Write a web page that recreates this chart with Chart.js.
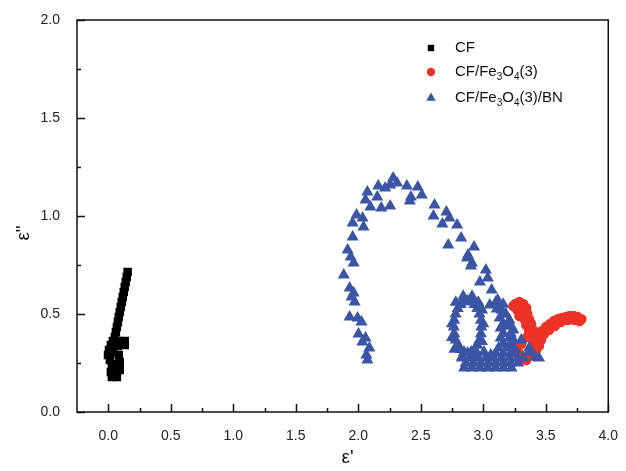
<!DOCTYPE html>
<html>
<head>
<meta charset="utf-8">
<script src="https://cdn.jsdelivr.net/npm/chart.js@4.4.0/dist/chart.umd.min.js"></script>
<style>
  html, body { margin: 0; padding: 0; background: #fff; }
  #chart { display: block; }
</style>
</head>
<body>
<canvas id="chart" width="626" height="471"></canvas>
<script>
// tick labels
const xTicks = [0.0, 0.5, 1.0, 1.5, 2.0, 2.5, 3.0, 3.5, 4.0];
const yTicks = [0.0, 0.5, 1.0, 1.5, 2.0];

// series names
const seriesNames = ['CF', 'CF/Fe3O4(3)', 'CF/Fe3O4(3)/BN'];

// CF (black squares) - eps', eps''
const cfX = [0.155, 0.148, 0.140, 0.132, 0.124, 0.116, 0.108, 0.100, 0.092, 0.084, 0.077, 0.069, 0.061, 0.053,
  0.037, 0.021, 0.084, 0.132, 0.132, 0.077, 0.006, -0.002, 0.013, 0.037, 0.061, 0.069, 0.061, 0.029, 0.021, 0.029,
  0.084, 0.092, 0.092, 0.037, 0.069];
const cfY = [0.714, 0.689, 0.663, 0.638, 0.612, 0.587, 0.561, 0.536, 0.510, 0.485, 0.459, 0.434, 0.408, 0.383,
  0.362, 0.342, 0.362, 0.362, 0.342, 0.337, 0.316, 0.291, 0.265, 0.245, 0.224, 0.204, 0.184, 0.179, 0.204, 0.235,
  0.291, 0.255, 0.214, 0.306, 0.179];

// CF/Fe3O4(3) (red circles)
const feX = [3.439, 3.470, 3.502, 3.534, 3.565, 3.597, 3.628, 3.660, 3.691, 3.723, 3.754, 3.786,
  3.486, 3.526, 3.573, 3.621, 3.676, 3.731, 3.770,
  3.257, 3.289, 3.320, 3.344, 3.273, 3.304, 3.352, 3.367, 3.320, 3.383, 3.344, 3.399, 3.367,
  3.415, 3.383, 3.431, 3.399, 3.423, 3.383, 3.360, 3.320, 3.289, 3.273, 3.304,
  3.241, 3.296, 3.328, 3.289, 3.336, 3.383, 3.352, 3.399, 3.446, 3.407, 3.344, 3.257, 3.225, 3.462];
const feY = [0.388, 0.413, 0.434, 0.449, 0.464, 0.474, 0.480, 0.485, 0.490, 0.490, 0.485, 0.474,
  0.398, 0.418, 0.439, 0.459, 0.469, 0.469, 0.464,
  0.551, 0.561, 0.551, 0.531, 0.520, 0.510, 0.500, 0.474, 0.480, 0.449, 0.444, 0.418, 0.413,
  0.388, 0.378, 0.357, 0.342, 0.316, 0.306, 0.286, 0.276, 0.296, 0.327, 0.347,
  0.541, 0.536, 0.515, 0.490, 0.469, 0.423, 0.383, 0.367, 0.337, 0.286, 0.265, 0.306, 0.337, 0.367];

// CF/Fe3O4(3)/BN (blue triangles): big arc, small loop, lobe and bottom
const bnX = [2.073, 2.065, 2.089, 2.033, 2.058, 2.002, 2.026, 1.994, 1.931, 1.971, 1.947, 1.963, 1.931, 1.884,
  1.963, 1.939, 1.915, 1.955, 2.042, 1.955, 2.034, 1.986, 2.097, 2.058, 2.184, 2.255, 2.152, 2.073, 2.160,
  2.215, 2.255, 2.279, 2.310, 2.389, 2.421, 2.413, 2.476, 2.508, 2.610, 2.705, 2.602, 2.729, 2.673, 2.791,
  2.823, 2.720, 2.870, 2.902, 2.926, 2.878, 2.910, 3.021, 2.973, 3.036, 3.067, 3.115, 3.146, 3.209, 3.241,
  3.304, 3.367, 3.415,
  2.985, 2.981, 2.970, 2.953, 2.930, 2.903, 2.875, 2.846, 2.819, 2.796, 2.779, 2.768, 2.764, 2.768, 2.779,
  2.796, 2.819, 2.846, 2.875, 2.903, 2.930, 2.953, 2.970, 2.981,
  2.780, 2.840, 2.910, 2.960, 2.750, 2.750, 2.770, 2.830, 2.900, 2.950, 2.990, 3.000, 2.990,
  3.052, 3.107, 3.131, 3.139, 3.139, 3.123, 3.060, 3.005, 3.194, 3.210, 3.194, 3.257, 3.241, 3.180,
  3.160, 3.160, 3.160, 3.160, 3.160, 3.160, 3.100, 3.100, 3.220, 3.220, 3.220, 3.220,
  2.831, 2.894, 2.957, 3.021, 3.084, 3.147, 3.210, 3.273,
  2.860, 2.920, 2.980, 3.040, 3.100, 3.160, 3.220, 3.280,
  2.847, 2.910, 2.973, 3.036, 3.099, 3.162, 3.226,
  3.320, 3.367, 3.446];
const bnY = [0.265, 0.291, 0.327, 0.357, 0.378, 0.398, 0.459, 0.480, 0.485, 0.561, 0.587, 0.607, 0.633, 0.699,
  0.760, 0.791, 0.827, 0.893, 0.944, 0.964, 0.990, 1.005, 1.046, 1.082, 1.041, 1.051, 1.097, 1.122, 1.153,
  1.143, 1.158, 1.194, 1.168, 1.153, 1.097, 1.077, 1.148, 1.107, 1.056, 1.020, 1.000, 0.990, 0.959, 0.954,
  0.888, 0.852, 0.786, 0.745, 0.842, 0.801, 0.760, 0.724, 0.663, 0.684, 0.622, 0.571, 0.520, 0.469, 0.418,
  0.367, 0.327, 0.281,
  0.434, 0.468, 0.500, 0.528, 0.548, 0.562, 0.566, 0.562, 0.548, 0.528, 0.500, 0.468, 0.434, 0.399, 0.367,
  0.340, 0.319, 0.306, 0.301, 0.306, 0.319, 0.340, 0.367, 0.399,
  0.560, 0.590, 0.590, 0.560, 0.450, 0.380, 0.320, 0.280, 0.280, 0.300, 0.360, 0.450, 0.520,
  0.546, 0.526, 0.480, 0.429, 0.378, 0.327, 0.291, 0.306, 0.439, 0.378, 0.327, 0.316, 0.367, 0.500,
  0.300, 0.350, 0.400, 0.450, 0.500, 0.550, 0.300, 0.560, 0.300, 0.340, 0.400, 0.440,
  0.276, 0.276, 0.276, 0.276, 0.276, 0.276, 0.276, 0.276,
  0.250, 0.250, 0.250, 0.250, 0.250, 0.250, 0.250, 0.250,
  0.224, 0.224, 0.224, 0.224, 0.224, 0.224, 0.224,
  0.276, 0.306, 0.276];

const FONT = '"Liberation Sans", Arial, Helvetica, sans-serif';
const BLACK = '#000000';
const RED = '#ec3327';
const BLUE = '#3b55a5';

function pairs(xs, ys) {
  return xs.map((x, i) => ({ x: x, y: ys[i] }));
}

// frame, inward ticks, axis titles and legend
const decor = {
  id: 'decor',
  beforeDatasetsDraw(chart) {
    const ctx = chart.ctx;
    const a = chart.chartArea;
    const xs = chart.scales.x, ys = chart.scales.y;
    ctx.save();
    ctx.strokeStyle = '#111';
    ctx.lineWidth = 1.5;
    ctx.beginPath();
    xTicks.forEach((v, i) => {
      const px = Math.round(xs.getPixelForValue(v)) + 0.5;
      ctx.moveTo(px, a.bottom); ctx.lineTo(px, a.bottom - 8);
      if (i < xTicks.length - 1) {
        const m = Math.round(xs.getPixelForValue((v + xTicks[i + 1]) / 2)) + 0.5;
        ctx.moveTo(m, a.bottom); ctx.lineTo(m, a.bottom - 4);
      }
    });
    yTicks.forEach((v, i) => {
      const py = Math.round(ys.getPixelForValue(v)) + 0.5;
      ctx.moveTo(a.left, py); ctx.lineTo(a.left + 8, py);
      if (i < yTicks.length - 1) {
        const m = Math.round(ys.getPixelForValue((v + yTicks[i + 1]) / 2)) + 0.5;
        ctx.moveTo(a.left, m); ctx.lineTo(a.left + 4, m);
      }
    });
    ctx.stroke();
    ctx.strokeRect(a.left, a.top, a.right - a.left, a.bottom - a.top);
    ctx.restore();
  },
  afterDraw(chart) {
    const ctx = chart.ctx;
    const a = chart.chartArea;
    ctx.save();
    ctx.fillStyle = '#111';
    ctx.font = '19px ' + FONT;
    ctx.textAlign = 'center';
    ctx.textBaseline = 'middle';
    ctx.fillText("\u03b5'", (a.left + a.right) / 2 + 5, 458);
    ctx.translate(24, 233);
    ctx.rotate(-Math.PI / 2);
    ctx.fillText('\u03b5"', 0, 0);
    ctx.restore();

    // legend with subscripts
    const rows = [
      { color: BLACK, style: 'rect', r: 4.5, y: 48, parts: [['CF', 0]] },
      { color: RED, style: 'circle', r: 4.2, y: 72, parts: [['CF/Fe', 0], ['3', 1], ['O', 0], ['4', 1], ['(3)', 0]] },
      { color: BLUE, style: 'triangle', r: 5.5, y: 98, parts: [['CF/Fe', 0], ['3', 1], ['O', 0], ['4', 1], ['(3)/BN', 0]] }
    ];
    ctx.save();
    ctx.textBaseline = 'middle';
    ctx.textAlign = 'left';
    rows.forEach(row => {
      ctx.fillStyle = row.color;
      Chart.helpers.drawPoint(ctx, { pointStyle: row.style, radius: row.r, rotation: 0, borderWidth: 0 }, 431, row.y);
      let x = 455;
      ctx.fillStyle = '#111';
      row.parts.forEach(p => {
        if (p[1]) {
          ctx.font = '10px ' + FONT;
          ctx.fillText(p[0], x, row.y + 5);
        } else {
          ctx.font = '15px ' + FONT;
          ctx.fillText(p[0], x, row.y);
        }
        x += ctx.measureText(p[0]).width;
      });
    });
    ctx.restore();
  }
};

const tickFont = { family: FONT, size: 14 };

new Chart(document.getElementById('chart'), {
  type: 'scatter',
  data: {
    datasets: [
      { label: seriesNames[2], data: pairs(bnX, bnY), pointStyle: 'triangle', pointRadius: 7,
        backgroundColor: BLUE, borderColor: BLUE, borderWidth: 0, order: 0 },
      { label: seriesNames[1], data: pairs(feX, feY), pointStyle: 'circle', pointRadius: 5.2,
        backgroundColor: RED, borderColor: RED, borderWidth: 0, order: 1 },
      { label: seriesNames[0], data: pairs(cfX, cfY), pointStyle: 'rect', pointRadius: 6,
        backgroundColor: BLACK, borderColor: BLACK, borderWidth: 0, order: 2 }
    ]
  },
  options: {
    responsive: false,
    animation: false,
    layout: { padding: { top: 20, right: 11, left: 0, bottom: 0 } },
    plugins: { legend: { display: false }, tooltip: { enabled: false } },
    scales: {
      x: {
        type: 'linear', min: -0.25, max: 4.0,
        afterBuildTicks: s => { s.ticks = xTicks.map(v => ({ value: v })); },
        afterFit: s => { s.height = 59; },
        grid: { display: false },
        border: { display: false },
        ticks: { font: tickFont, color: '#222', padding: 8, maxRotation: 0, callback: v => v.toFixed(1) }
      },
      y: {
        type: 'linear', min: 0, max: 2.0,
        afterBuildTicks: s => { s.ticks = yTicks.map(v => ({ value: v })); },
        afterFit: s => { s.width = 77; },
        grid: { display: false },
        border: { display: false },
        ticks: { font: tickFont, color: '#222', padding: 9, callback: v => v.toFixed(1) }
      }
    }
  },
  plugins: [decor]
});
</script>
</body>
</html>
